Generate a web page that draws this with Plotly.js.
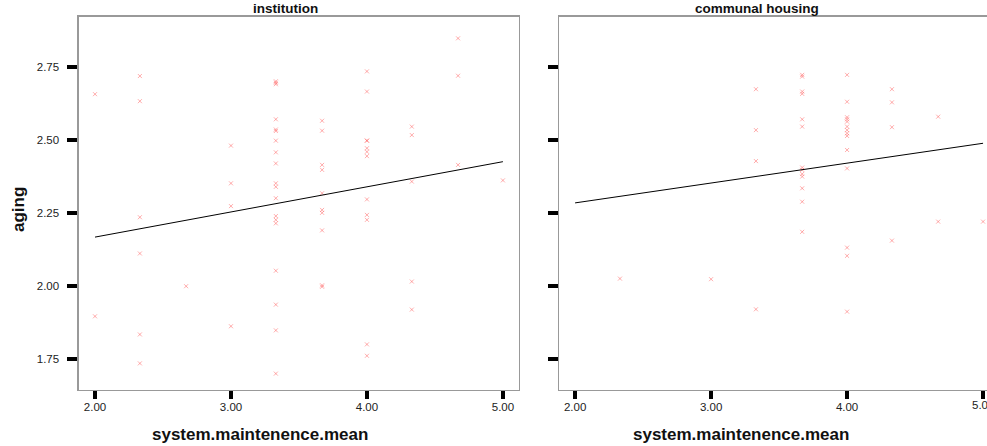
<!DOCTYPE html>
<html>
<head>
<meta charset="utf-8">
<script src="https://cdn.plot.ly/plotly-3.0.1.min.js"></script>
<style>html,body{margin:0;padding:0;background:#fff;overflow:hidden}#chart{width:987px;height:446px}</style>
</head>
<body>
<div id="chart"></div>
<script>
// Panel 1: institution
const instX = [2.00, 2.00, 2.33, 2.33, 2.33, 2.33, 2.33, 2.33, 2.67,
  3.00, 3.00, 3.00, 3.00,
  3.33, 3.33, 3.33, 3.33, 3.33, 3.33, 3.33, 3.33, 3.33, 3.33, 3.33, 3.33, 3.33, 3.33, 3.33, 3.33, 3.33, 3.33, 3.33,
  3.67, 3.67, 3.67, 3.67, 3.67, 3.67, 3.67, 3.67, 3.67, 3.67,
  4.00, 4.00, 4.00, 4.00, 4.00, 4.00, 4.00, 4.00, 4.00, 4.00, 4.00, 4.00,
  4.33, 4.33, 4.33, 4.33, 4.33,
  4.67, 4.67, 4.67,
  5.00];
const instY = [2.656, 1.896, 2.718, 2.632, 2.235, 2.111, 1.834, 1.735, 1.999,
  2.480, 2.351, 2.273, 1.862,
  2.700, 2.695, 2.690, 2.570, 2.535, 2.530, 2.497, 2.457, 2.419, 2.351, 2.339, 2.300, 2.239, 2.226, 2.214, 2.052, 1.936, 1.848, 1.700,
  2.565, 2.531, 2.414, 2.397, 2.317, 2.260, 2.250, 2.190, 2.002, 1.997,
  2.734, 2.665, 2.497, 2.471, 2.459, 2.444, 2.296, 2.243, 2.226, 1.800, 1.761, 2.497,
  2.545, 2.516, 2.357, 2.015, 1.919,
  2.847, 2.719, 2.414,
  2.361];
// Panel 2: communal housing
const commX = [2.33, 3.00,
  3.33, 3.33, 3.33, 3.33,
  3.67, 3.67, 3.67, 3.67, 3.67, 3.67, 3.67, 3.67, 3.67, 3.67, 3.67, 3.67, 3.67,
  4.00, 4.00, 4.00, 4.00, 4.00, 4.00, 4.00, 4.00, 4.00, 4.00, 4.00, 4.00, 4.00, 4.00,
  4.33, 4.33, 4.33, 4.33,
  4.67, 4.67,
  5.00];
const commY = [2.025, 2.023,
  2.673, 2.533, 2.427, 1.920,
  2.722, 2.716, 2.665, 2.657, 2.570, 2.545, 2.405, 2.397, 2.383, 2.374, 2.334, 2.288, 2.185,
  2.722, 2.630, 2.577, 2.570, 2.562, 2.545, 2.533, 2.522, 2.513, 2.465, 2.402, 2.131, 2.103, 1.912,
  2.673, 2.628, 2.543, 2.155,
  2.579, 2.220,
  2.220];
// Fit lines (endpoints)
const fitX = [2.00, 5.00];
const instFitY = [2.167, 2.425];
const commFitY = [2.284, 2.488];

const yTickVals = [1.75, 2.00, 2.25, 2.50, 2.75];
const yTickText = ['1.75', '2.00', '2.25', '2.50', '2.75'];
const xTickVals = [2, 3, 4, 5];
const xTickText = ['2.00', '3.00', '4.00', '5.00'];

const mk = {symbol: 'x-thin', size: 4, line: {width: 1, color: 'rgba(255,70,70,0.45)'}, color: 'rgba(255,70,70,0.45)'};
const FONT = 'Liberation Sans, Arial, sans-serif';

const data = [
  {x: instX, y: instY, type: 'scatter', mode: 'markers', marker: mk, xaxis: 'x', yaxis: 'y'},
  {x: fitX, y: instFitY, type: 'scatter', mode: 'lines', line: {color: '#000', width: 1}, xaxis: 'x', yaxis: 'y'},
  {x: commX, y: commY, type: 'scatter', mode: 'markers', marker: mk, xaxis: 'x2', yaxis: 'y2'},
  {x: fitX, y: commFitY, type: 'scatter', mode: 'lines', line: {color: '#000', width: 1}, xaxis: 'x2', yaxis: 'y2'}
];

const tickFont = {family: FONT, size: 11.5, color: '#222'};
const baseX = {
  range: [1.882, 5.118], tickvals: xTickVals, ticktext: xTickText,
  ticks: 'outside', ticklen: 8, tickwidth: 4, tickcolor: '#000',
  showline: true, linecolor: '#999', linewidth: 1.5, mirror: true,
  showgrid: false, zeroline: false, tickfont: tickFont, ticklabelstandoff: -2, fixedrange: true
};
const baseY = {
  range: [1.644, 2.92], tickvals: yTickVals, ticktext: yTickText,
  ticks: 'outside', ticklen: 10, tickwidth: 4, tickcolor: '#000',
  showline: true, linecolor: '#999', linewidth: 1.5,
  showgrid: false, zeroline: false, tickfont: tickFont, ticklabelstandoff: 6,
  domain: [0.1256, 0.9619], fixedrange: true
};

const layout = {
  width: 987, height: 446,
  margin: {l: 0, r: 0, t: 0, b: 0},
  paper_bgcolor: '#fff', plot_bgcolor: '#fff',
  showlegend: false,
  xaxis: Object.assign({}, baseX, {domain: [0.0800, 0.5258], anchor: 'y'}),
  yaxis: Object.assign({}, baseY, {anchor: 'x', mirror: true}),
  xaxis2: Object.assign({}, baseX, {domain: [0.5664, 1], range: [1.882, 5.029], anchor: 'y2'}),
  yaxis2: Object.assign({}, baseY, {anchor: 'x2', showticklabels: false, mirror: false}),
  annotations: [
    {text: '<b>institution</b>', xref: 'paper', yref: 'paper', x: 285/987, y: 1 - 9/446, xanchor: 'center', yanchor: 'middle', showarrow: false,
     font: {family: FONT, size: 13.5, color: '#111'}},
    {text: '<b>communal housing</b>', xref: 'paper', yref: 'paper', x: 757/987, y: 1 - 9/446, xanchor: 'center', yanchor: 'middle', showarrow: false,
     font: {family: FONT, size: 13.5, color: '#111'}},
    {text: '<b>aging</b>', xref: 'paper', yref: 'paper', x: 18/987, y: 1 - 210/446, xanchor: 'center', yanchor: 'middle', textangle: -90, showarrow: false,
     font: {family: FONT, size: 17, color: '#111'}},
    {text: '<b>system.maintenence.mean</b>', xref: 'paper', yref: 'paper', x: 260/987, y: 1 - 434/446, xanchor: 'center', yanchor: 'middle', showarrow: false,
     font: {family: FONT, size: 17, color: '#111'}},
    {text: '<b>system.maintenence.mean</b>', xref: 'paper', yref: 'paper', x: 741/987, y: 1 - 434/446, xanchor: 'center', yanchor: 'middle', showarrow: false,
     font: {family: FONT, size: 17, color: '#111'}},
    {text: xTickText[3], xref: 'x2', yref: 'paper', x: xTickVals[3], y: 1 - 405/446, xanchor: 'center', yanchor: 'middle', showarrow: false,
     font: tickFont}
  ]
};

Plotly.newPlot('chart', data, layout, {displayModeBar: false, staticPlot: true});
</script>
</body>
</html>
